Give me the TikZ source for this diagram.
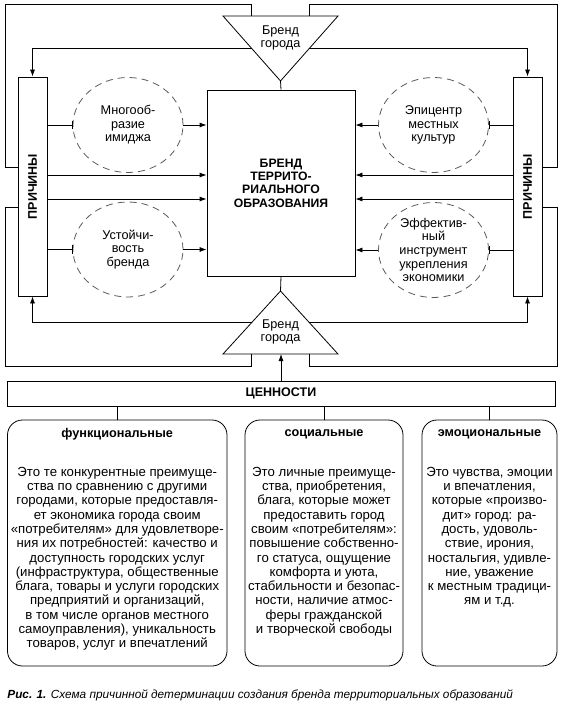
\documentclass[tikz,border=0pt]{standalone}
\usepackage{fontspec}
\setmainfont{Liberation Sans}
\usetikzlibrary{arrows.meta, positioning, shapes.geometric, calc}

\begin{document}
\begin{tikzpicture}[
x=1pt, y=-1pt,
line width=0.8pt,
font=\fontsize{12.7}{13.6}\selectfont,
box/.style={draw, rectangle, inner sep=0pt},
oval/.style={draw=black!65, dash pattern=on 7pt off 5pt, ellipse,
minimum width=110pt, minimum height=95pt, inner sep=0pt, align=center},
valbox/.style={draw, rounded corners=15pt, minimum height=246pt},
arrow/.style={-{Latex[length=7pt,width=5pt]}},
bar/.style={-{Bar[width=8pt]}},
txt/.style={align=center, inner sep=0pt},
body/.style={txt, anchor=north, font=\fontsize{13.2}{14.3}\selectfont},
title/.style={txt, font=\fontsize{12.7}{14}\selectfont\bfseries}
]
\useasboundingbox (0,0) rectangle (562,708);

% centre
\node[box, minimum width=148pt, minimum height=186pt, txt, font=\fontsize{12.2}{13.3}\selectfont\bfseries] (brand) at (281,183)
{БРЕНД\\ТЕРРИТО-\\РИАЛЬНОГО\\ОБРАЗОВАНИЯ};

% triangles
\coordinate (ttl) at (223,16);
\coordinate (ttr) at (338,16);
\coordinate (tap) at (280.5,81);
\coordinate (bbl) at (223,354);
\coordinate (bbr) at (338,354);
\coordinate (bap) at (280.5,291);
\draw (ttl) -- (ttr) -- (tap) -- cycle;
\draw (bbl) -- (bbr) -- (bap) -- cycle;
\node[txt] (tcity) at (280.5,38) {Бренд\\города};
\node[txt] (bcity) at (280.5,332) {Бренд\\города};
\draw (tap) -- (brand.north);
\draw (brand.south) -- (bap);

% causes
\node[box, minimum width=29pt, minimum height=219pt] (causeL) at (32.5,186.5) {};
\node[box, minimum width=29pt, minimum height=219pt] (causeR) at (527.5,186.5) {};
\node[rotate=90, font=\fontsize{12.5}{14}\selectfont\bfseries] (causeLtxt) at (causeL) {ПРИЧИНЫ};
\node[rotate=90, font=\fontsize{12.5}{14}\selectfont\bfseries] (causeRtxt) at (causeR) {ПРИЧИНЫ};

% ovals
\node[oval] (imgL) at (128,125) {Многооб-\\разие\\имиджа};
\node[oval] (stabL) at (128,249.5) {Устойчи-\\вость\\бренда};
\node[oval] (cultR) at (433.5,125) {Эпицентр\\местных\\культур};
\node[oval] (econR) at (433.5,250) {Эффектив-\\ный\\инструмент\\укрепления\\экономики};

\draw[bar] (causeL.east |- imgL) -- (imgL.west);
\draw[arrow] (imgL.east) -- (imgL.east -| brand.west);
\draw[bar] (causeL.east |- stabL) -- (stabL.west);
\draw[arrow] (stabL.east) -- (stabL.east -| brand.west);
\draw[bar] (causeR.west |- cultR) -- (cultR.east);
\draw[arrow] (cultR.west) -- (cultR.west -| brand.east);
\draw[bar] (causeR.west |- econR) -- (econR.east);
\draw[arrow] (econR.west) -- (econR.west -| brand.east);

\draw[arrow] (causeL.east |- 0,175) -- (brand.west |- 0,175);
\draw[arrow] (causeL.east |- 0,199) -- (brand.west |- 0,199);
\draw[arrow] (causeR.west |- 0,175) -- (brand.east |- 0,175);
\draw[arrow] (causeR.west |- 0,199) -- (brand.east |- 0,199);

% loops
\coordinate (tq1) at ($(ttl)!0.25!(ttr)$);
\coordinate (tq3) at ($(ttl)!0.75!(ttr)$);
\coordinate (bq1) at ($(bbl)!0.25!(bbr)$);
\coordinate (bq3) at ($(bbl)!0.75!(bbr)$);
\coordinate (tmL) at ($(ttl)!0.5!(tap)$);
\coordinate (tmR) at ($(ttr)!0.5!(tap)$);
\coordinate (bmL) at ($(bbl)!0.5!(bap)$);
\coordinate (bmR) at ($(bbr)!0.5!(bap)$);

\draw (causeL.west |- 0,167) -- (5,167) -- (5,4.5) -| (tq1);
\draw (causeR.east |- 0,167) -- (557,167) -- (557,4.5) -| (tq3);
\draw (bq1) |- (5,366) |- (causeL.west |- 0,207);
\draw (bq3) |- (557,366) |- (causeR.east |- 0,207);
\draw[arrow] (tmL) -| (causeL.north);
\draw[arrow] (tmR) -| (causeR.north);
\draw[arrow] (bmL) -| (causeL.south);
\draw[arrow] (bmR) -| (causeR.south);

% values
\node[box, minimum width=548pt, minimum height=25pt, font=\fontsize{12.5}{14}\selectfont\bfseries] (values) at (281,393.5) {ЦЕННОСТИ};
\draw[arrow] (values.north) -- (values.north |- bbl);

\node[valbox, minimum width=219.5pt] (func) at (117.25,543) {};
\node[valbox, minimum width=158pt] (soc) at (324,543) {};
\node[valbox, minimum width=135pt] (emo) at (489.5,543) {};
\draw (values.south -| func) -- (func.north);
\draw (values.south -| soc) -- (soc.north);
\draw (values.south -| emo) -- (emo.north);

\node[title] (functitle) at ($(func.north)+(0,15)$) {функциональные};
\node[title] (soctitle) at ($(soc.north)+(0,15)$) {социальные};
\node[title] (emotitle) at ($(emo.north)+(0,15)$) {эмоциональные};

\node[body] (functext) at ($(func.north)+(0,47)$)
{Это те конкурентные преимуще-\\ства по сравнению с другими\\городами, которые предоставля-\\ет экономика города своим\\«потребителям» для удовлетворе-\\ния их потребностей: качество и\\доступность городских услуг\\(инфраструктура, общественные\\блага, товары и услуги городских\\предприятий и организаций,\\в том числе органов местного\\самоуправления), уникальность\\товаров, услуг и впечатлений};
\node[body] (soctext) at ($(soc.north)+(0,47)$)
{Это личные преимуще-\\ства, приобретения,\\блага, которые может\\предоставить город\\своим «потребителям»:\\повышение собственно-\\го статуса, ощущение\\комфорта и уюта,\\стабильности и безопас-\\ности, наличие атмос-\\феры гражданской\\и творческой свободы};
\node[body] (emotext) at ($(emo.north)+(0,47)$)
{Это чувства, эмоции\\и впечатления,\\которые «произво-\\дит» город: ра-\\дость, удоволь-\\ствие, ирония,\\ностальгия, удивле-\\ние, уважение\\к местным традици-\\ям и т.д.};

% caption
\node[anchor=west, inner sep=0pt, font=\fontsize{11.8}{13}\selectfont\itshape] (caption) at (7,695)
{\textbf{Рис. 1.} Схема причинной детерминации создания бренда территориальных образований};

\end{tikzpicture}
\end{document}
